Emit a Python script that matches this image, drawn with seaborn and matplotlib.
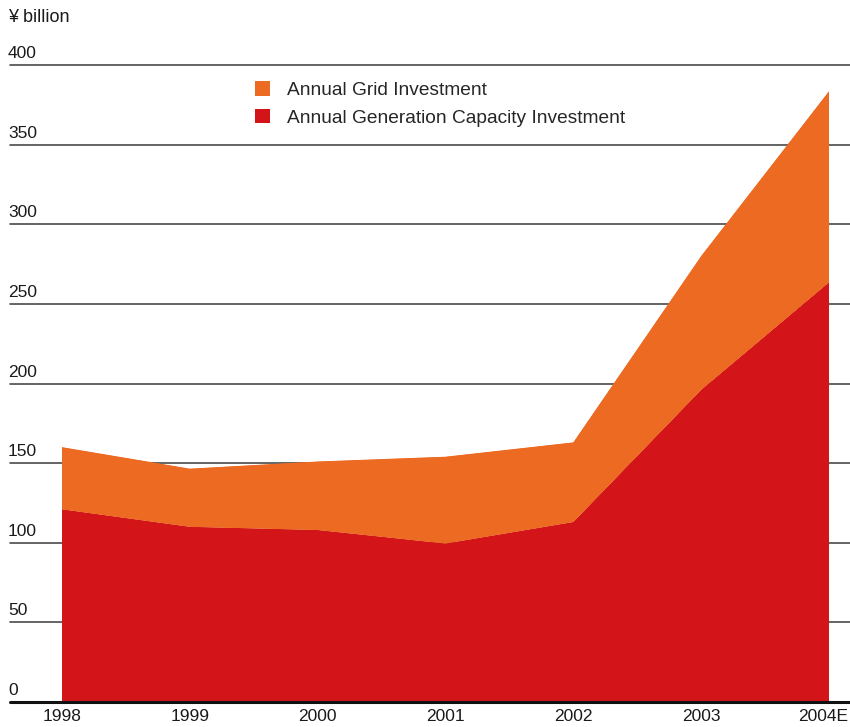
import matplotlib
matplotlib.use("Agg")
import matplotlib.pyplot as plt
from matplotlib.patches import Patch
from matplotlib.transforms import blended_transform_factory, ScaledTranslation
import pandas as pd
import seaborn as sns
import seaborn.objects as so

# ---- data ----
years = ["1998", "1999", "2000", "2001", "2002", "2003", "2004E"]
generation = [121, 110, 108, 99.5, 113, 196, 263.5]
grid = [39, 36.5, 43, 54.5, 50, 84, 120]
series_names = ["Annual Generation Capacity Investment", "Annual Grid Investment"]
y_ticks = [0, 50, 100, 150, 200, 250, 300, 350, 400]
unit_label = "¥ billion"

RED = "#D3151A"
ORANGE = "#EC6A22"

sns.set_theme(style="white")
num_font = ["Liberation Sans", "DejaVu Sans"]
txt_font = ["Liberation Sans", "DejaVu Sans"]
plt.rcParams["font.family"] = txt_font

pos = list(range(len(years)))
df = pd.concat([
    pd.DataFrame({"pos": pos, "value": generation, "series": series_names[0]}),
    pd.DataFrame({"pos": pos, "value": grid, "series": series_names[1]}),
])

fig = plt.figure(figsize=(8.5, 7.27), dpi=100)
ax = fig.add_axes([62 / 850, 25 / 727, 767 / 850, (702 - 65) / 727])

# gridlines behind areas, extending beyond the axes
x0 = -(62 - 10) / 767
x1 = (850 - 62) / 767
for v in y_ticks[1:]:
    ax.axhline(v, xmin=x0, xmax=x1, color="#4a4a4a", lw=1.2, clip_on=False, zorder=0)

(
    so.Plot(df, x="pos", y="value", color="series")
    .add(so.Area(alpha=1, edgewidth=0.8, edgealpha=1), so.Stack())
    .scale(color={series_names[0]: RED, series_names[1]: ORANGE})
    .on(ax)
    .plot()
)
fig.legends.clear()

for coll in ax.collections:
    coll.set_zorder(1)

ax.axhline(0, xmin=x0, xmax=x1, color="#111111", lw=2.2, clip_on=False, zorder=3)

ax.set_facecolor("white")
ax.grid(False)
for s in ax.spines.values():
    s.set_visible(False)
ax.set_xlim(0, len(years) - 1)
ax.set_ylim(0, 400)
ax.set_xlabel("")
ax.set_ylabel("")
ax.set_yticks([])
ax.set_xticks(pos)
ax.set_xticklabels(years, fontfamily=num_font, fontsize=12.5, color="#1a1a1a")
ax.tick_params(axis="x", length=0, pad=5)
last = ax.get_xticklabels()[-1]
last.set_transform(last.get_transform() + ScaledTranslation(-6 / 100, 0, fig.dpi_scale_trans))

trans = blended_transform_factory(ax.transAxes, ax.transData)
for v in y_ticks:
    ax.text((8 - 62) / 767, v + 2.5, str(v), transform=trans, ha="left", va="bottom",
            fontfamily=num_font, fontsize=12.5, color="#1a1a1a", clip_on=False)

fig.text(8 / 850, 1 - 18 / 727, unit_label, ha="left", va="center",
         fontfamily=num_font, fontsize=13, color="#1a1a1a")

handles = [Patch(facecolor=ORANGE, edgecolor="none"), Patch(facecolor=RED, edgecolor="none")]
ax.legend(handles, [series_names[1], series_names[0]], loc="upper left",
          bbox_to_anchor=((255 - 62) / 767, (702 - 81) / 637), frameon=False,
          handlelength=0.8, handleheight=0.8, handletextpad=0.85, labelspacing=0.5,
          borderpad=0, borderaxespad=0, prop={"family": txt_font, "size": 13.8})

fig.savefig("out.png", dpi=100, facecolor="white")
